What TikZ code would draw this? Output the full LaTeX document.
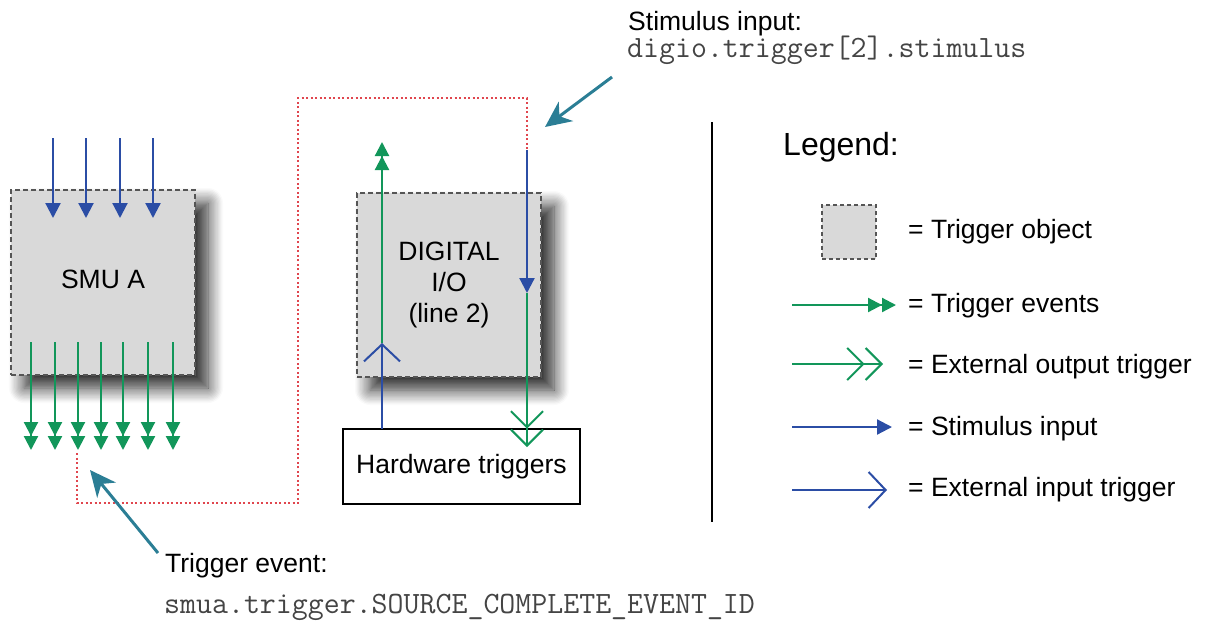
\documentclass[tikz,border=0pt]{standalone}
\usepackage{fontspec}
\setmainfont{Liberation Sans}
\usetikzlibrary{arrows.meta,shadows.blur}
\definecolor{trigblue}{HTML}{2B4DA5}
\definecolor{triggreen}{HTML}{12965A}
\definecolor{trigred}{HTML}{E0464E}
\definecolor{calloutteal}{HTML}{2B7E95}
\definecolor{boxgray}{HTML}{D9D9D9}
\definecolor{bordergray}{HTML}{555555}
\definecolor{codegray}{HTML}{444444}
\begin{document}
\begin{tikzpicture}[x=1pt,y=-1pt,
  lbl/.style={font=\fontsize{26.5}{31}\selectfont, inner sep=0pt},
  code/.style={font=\ttfamily\fontsize{31}{34}\selectfont, text=codegray, inner sep=0pt},
  trigobj/.style={draw=bordergray, dash pattern=on 5pt off 3pt, line width=1.3pt, fill=boxgray,
    inner sep=0pt, font=\fontsize{26.5}{31}\selectfont,
    blur shadow={shadow xshift=13pt, shadow yshift=-13pt, shadow blur radius=15pt,
      shadow blur steps=12, shadow opacity=85}},
  legbox/.style={draw=bordergray, dash pattern=on 4pt off 3pt, line width=1.2pt, fill=boxgray, inner sep=0pt},
  evt/.style={draw=triggreen, line width=2.2pt,
    -{Triangle[length=14pt,width=14pt,sep=0pt] Triangle[length=14pt,width=14pt,sep=0pt]}},
  extout/.style={draw=triggreen, line width=2pt,
    -{Straight Barb[length=16pt,width=32pt,sep=0pt] Straight Barb[length=16pt,width=32pt,sep=0pt]}},
  stim/.style={draw=trigblue, line width=2.2pt, -{Triangle[length=15pt,width=15pt]}},
  extin/.style={draw=trigblue, line width=2pt, -{Straight Barb[length=17pt,width=36pt]}},
  callout/.style={draw=calloutteal, line width=3pt, -{Stealth[length=26pt,width=24pt,inset=8pt]}},
  link/.style={draw=trigred, line width=2pt, dash pattern=on 2pt off 2.5pt}
]
\useasboundingbox (0,0) rectangle (1210,622);

% trigger objects
\node[trigobj, minimum width=184pt, minimum height=185pt] (smu) at (103,282.5) {\raisebox{7pt}{SMU A}};
\node[trigobj, minimum width=184pt, minimum height=184pt, align=center] (dio) at (449,285) {DIGITAL\\I/O\\(line 2)};
\node[draw=black, line width=2pt, minimum width=237pt, minimum height=75pt, inner sep=0pt,
  font=\fontsize{26.5}{31}\selectfont] (hw) at (461.5,466.5) {Hardware triggers};

% SMU stimulus inputs and trigger events
\foreach \x [count=\i] in {53,86,120,153} {
  \coordinate (si\i) at (\x,138);
  \coordinate (se\i) at (\x,218);
  \draw[stim] (si\i) -- (se\i);
}
\foreach \x [count=\i] in {31,55,78,101,123,148,173} {
  \coordinate (go\i) at (\x,342);
  \coordinate (ge\i) at (\x,450);
  \draw[evt] (go\i) -- (ge\i);
}

% dotted link
\coordinate (evtpt) at (77,453);
\coordinate (stimpt) at (527,150);
\draw[link] (evtpt) |- (298,503) |- (527,98) -- (stimpt);

% digital I/O lines
\coordinate (stimtip) at (527,293);
\coordinate (hwout) at (527,447);
\draw[stim] (stimpt) -- (stimtip);
\draw[extout] (stimtip) -- (hwout);
\coordinate (hwin) at (382,429);
\coordinate (dioin) at (382,343);
\coordinate (dioout) at (382,142);
\draw[extin] (hwin) -- (dioin);
\draw[evt] (dioin) -- (dioout);

% callouts
\node[lbl, anchor=base west] (stimlbl) at (628,30) {Stimulus input:};
\node[code, anchor=base west] (stimcode) at (627,57) {digio.trigger[2].stimulus};
\coordinate (c1s) at (612,77);
\coordinate (c1e) at (545,127);
\draw[callout] (c1s) -- (c1e);
\node[lbl, anchor=base west] (evlbl) at (165,572) {Trigger event:};
\node[code, anchor=base west] (evcode) at (164,613) {smua.trigger.SOURCE\_COMPLETE\_EVENT\_ID};
\coordinate (c2s) at (158,553);
\coordinate (c2e) at (90,470);
\draw[callout] (c2s) -- (c2e);

% separator
\coordinate (vt) at (712,122);
\coordinate (vb) at (712,522);
\draw[line width=2.5pt] (vt) -- (vb);

% legend
\node[font=\fontsize{32}{38}\selectfont, inner sep=0pt, anchor=base west] (leg) at (783,155) {Legend:};
\node[legbox, minimum size=54pt] (lb) at (849,232) {};
\node[lbl, anchor=base west] (lt1) at (908,238) {= Trigger object};
\coordinate (l1a) at (792,305); \coordinate (l1b) at (896,305);
\draw[evt] (l1a) -- (l1b);
\node[lbl, anchor=base west] (lt2) at (908,312) {= Trigger events};
\coordinate (l2a) at (792,364); \coordinate (l2b) at (883,364);
\draw[extout] (l2a) -- (l2b);
\node[lbl, anchor=base west] (lt3) at (908,373) {= External output trigger};
\coordinate (l3a) at (792,427); \coordinate (l3b) at (892,427);
\draw[stim] (l3a) -- (l3b);
\node[lbl, anchor=base west] (lt4) at (908,435) {= Stimulus input};
\coordinate (l4a) at (792,490); \coordinate (l4b) at (887,490);
\draw[extin] (l4a) -- (l4b);
\node[lbl, anchor=base west] (lt5) at (908,496) {= External input trigger};
\end{tikzpicture}
\end{document}
